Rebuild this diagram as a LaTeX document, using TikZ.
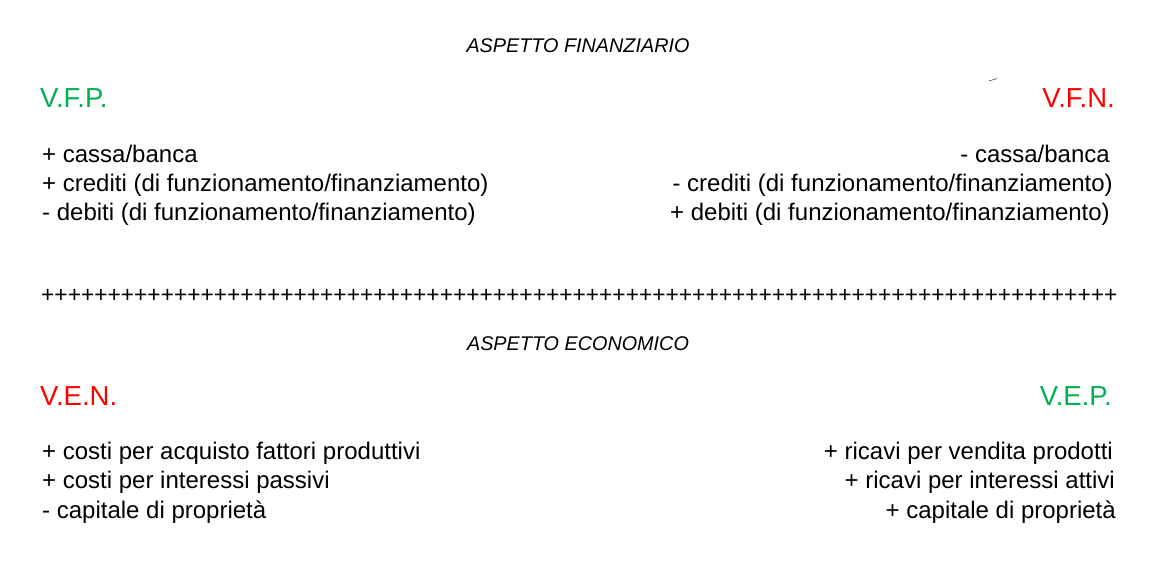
\documentclass[tikz,border=0pt]{standalone}
\usepackage{fontspec}
\setmainfont{Liberation Sans}
\definecolor{vgreen}{HTML}{00B050}
\definecolor{vred}{HTML}{FF0000}
\tikzset{
  body/.style={inner sep=0pt, font=\fontsize{24}{28}\selectfont, text=black},
  head/.style={inner sep=0pt, font=\fontsize{27.5}{32}\selectfont},
  title/.style={inner sep=0pt, font=\fontsize{19.8}{24}\selectfont\itshape, anchor=base},
  lft/.style={anchor=base west},
  rgt/.style={anchor=base east},
}
\begin{document}
\begin{tikzpicture}[x=1pt,y=-1pt]
\useasboundingbox[fill=white] (0,0) rectangle (1167,583);
% financial
\node[title] (t1) at (578,53) {ASPETTO FINANZIARIO};
\node[head,lft,text=vgreen] (vfp) at (40,108) {V.F.P.};
\node[head,rgt,text=vred] (vfn) at (1115,108) {V.F.N.};
\draw[black!70, line width=0.6pt] (989,81) -- (997,78.5);
\node[body,lft] (l1) at (42,162) {+ cassa/banca};
\node[body,lft] (l2) at (42,191) {+ crediti (di funzionamento/finanziamento)};
\node[body,lft] (l3) at (42,220) {- debiti (di funzionamento/finanziamento)};
\node[body,rgt] (r1) at (1110,162) {- cassa/banca};
\node[body,rgt] (r2) at (1113,191) {- crediti (di funzionamento/finanziamento)};
\node[body,rgt] (r3) at (1110,220) {+ debiti (di funzionamento/finanziamento)};
% separator
\node[inner sep=0pt, anchor=base west, font=\fontsize{22.75}{26}\selectfont] (sep) at (41,302)
 {+++++++++++++++++++++++++++++++++++++++++++++++++++++++++++++++++++++++++++++++++};
% economic
\node[title] (t2) at (578,350) {ASPETTO ECONOMICO};
\node[head,lft,text=vred] (ven) at (40,405) {V.E.N.};
\node[head,rgt,text=vgreen] (vep) at (1112,405) {V.E.P.};
\node[body,lft] (e1) at (42,459) {+ costi per acquisto fattori produttivi};
\node[body,lft] (e2) at (42,488) {+ costi per interessi passivi};
\node[body,lft] (e3) at (42,518) {- capitale di proprietà};
\node[body,rgt] (p1) at (1113,459) {+ ricavi per vendita prodotti};
\node[body,rgt] (p2) at (1115,488) {+ ricavi per interessi attivi};
\node[body,rgt] (p3) at (1116,518) {+ capitale di proprietà};
\end{tikzpicture}
\end{document}
